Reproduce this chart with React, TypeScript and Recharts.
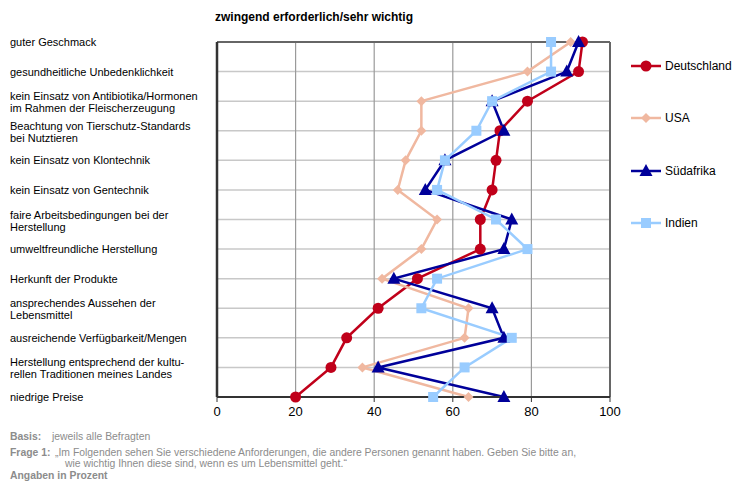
import React from 'react';
import { LineChart, Line, XAxis, YAxis, CartesianGrid, Legend, ReferenceLine } from 'recharts';

const categories = [
  'guter Geschmack',
  'gesundheitliche Unbedenklichkeit',
  'kein Einsatz von Antibiotika/Hormonen\nim Rahmen der Fleischerzeugung',
  'Beachtung von Tierschutz-Standards\nbei Nutztieren',
  'kein Einsatz von Klontechnik',
  'kein Einsatz von Gentechnik',
  'faire Arbeitsbedingungen bei der\nHerstellung',
  'umweltfreundliche Herstellung',
  'Herkunft der Produkte',
  'ansprechendes Aussehen der\nLebensmittel',
  'ausreichende Verfügbarkeit/Mengen',
  'Herstellung entsprechend der kultu-\nrellen Traditionen meines Landes',
  'niedrige Preise',
];
const deutschland = [93, 92, 79, 72, 71, 70, 67, 67, 51, 41, 33, 29, 20];
const usa = [90, 79, 52, 52, 48, 46, 56, 52, 42, 64, 63, 37, 64];
const suedafrika = [92, 89, 70, 73, 58, 53, 75, 73, 45, 70, 73, 41, 73];
const indien = [85, 85, 70, 66, 58, 56, 71, 79, 56, 52, 75, 63, 55];
const xTicks = [0, 20, 40, 60, 80, 100];

const seriesNames = ['Deutschland', 'USA', 'Südafrika', 'Indien'];
const seriesKeys = ['de', 'us', 'za', 'in'];
const seriesColors = ['#C0001A', '#F0B8A0', '#00009A', '#99CCFF'];
const seriesShapes = ['circle', 'diamond', 'triangle', 'square'];

const data = categories.map((name, i) => ({
  name,
  de: deutschland[i],
  us: usa[i],
  za: suedafrika[i],
  in: indien[i],
}));

const FONT = '"Liberation Sans", Arial, sans-serif';

function Marker({ shape, cx, cy, color }: { shape: string; cx: number; cy: number; color: string }) {
  if (shape === 'circle') return <circle cx={cx} cy={cy} r={5.5} fill={color} stroke="none" />;
  if (shape === 'diamond')
    return (
      <polygon
        points={`${cx},${cy - 5} ${cx + 5},${cy} ${cx},${cy + 5} ${cx - 5},${cy}`}
        fill={color}
      />
    );
  if (shape === 'triangle')
    return (
      <polygon
        points={`${cx},${cy - 7} ${cx + 6.5},${cy + 5} ${cx - 6.5},${cy + 5}`}
        fill={color}
      />
    );
  return <rect x={cx - 5} y={cy - 5} width={10} height={10} fill={color} />;
}

const makeDot = (shape: string, color: string) => (props: any) => {
  const { cx, cy, index } = props;
  if (cx == null || cy == null) return <g key={`d-${index}`} />;
  return (
    <g key={`d-${shape}-${index}`}>
      <Marker shape={shape} cx={cx} cy={cy} color={color} />
    </g>
  );
};

const CategoryTick = (props: any) => {
  const { y, payload } = props;
  const lines = String(payload.value).split('\n');
  if (lines.length === 1) {
    return (
      <text x={10} y={y + 4} fontSize={11} fill="#000" fontFamily={FONT} textAnchor="start">
        {lines[0]}
      </text>
    );
  }
  return (
    <text x={10} y={y} fontSize={11} fill="#000" fontFamily={FONT} textAnchor="start">
      <tspan x={10} y={y - 1}>{lines[0]}</tspan>
      <tspan x={10} y={y + 11}>{lines[1]}</tspan>
    </text>
  );
};

const LegendContent = () => (
  <div style={{ position: 'relative', width: 110, height: 190 }}>
    {seriesNames.map((n, i) => (
      <div
        key={n}
        style={{ position: 'absolute', left: 0, top: i * 52.3, height: 16, display: 'flex', alignItems: 'center' }}
      >
        <svg width={32} height={16}>
          <line x1={1} y1={8} x2={31} y2={8} stroke={seriesColors[i]} strokeWidth={2.5} />
          <Marker shape={seriesShapes[i]} cx={16} cy={8} color={seriesColors[i]} />
        </svg>
        <span style={{ fontFamily: FONT, fontSize: 12, color: '#000', marginLeft: 3 }}>{n}</span>
      </div>
    ))}
  </div>
);

const note = { position: 'absolute' as const, fontSize: 10.4, color: '#8c8c8c', fontFamily: FONT, whiteSpace: 'nowrap' as const };

export default function App() {
  return (
    <div style={{ position: 'absolute', left: 0, top: 0, width: 736, height: 481, background: '#fff', fontFamily: FONT }}>
      <div
        style={{
          position: 'absolute',
          left: 215,
          top: 9,
          fontSize: 12,
          fontWeight: 'bold',
          fontFamily: FONT,
          color: '#000',
          lineHeight: '16px',
        }}
      >
        zwingend erforderlich/sehr wichtig
      </div>
      <LineChart
        width={736}
        height={481}
        data={data}
        layout="vertical"
        margin={{ top: 42, right: 126, bottom: 54, left: 0 }}
      >
        <CartesianGrid vertical={false} stroke="#c8c8c8" strokeWidth={1.5} />
        <CartesianGrid horizontal={false} stroke="#9a9a9a" strokeWidth={1.2} />
        <XAxis
          type="number"
          domain={[0, 100]}
          ticks={xTicks}
          height={30}
          axisLine={{ stroke: '#333', strokeWidth: 2 }}
          tickLine={{ stroke: '#333', strokeWidth: 1 }}
          tickSize={5}
          tickMargin={5}
          tick={{ fontSize: 13, fill: '#000', fontFamily: FONT }}
        />
        <YAxis
          type="category"
          dataKey="name"
          scale="point"
          width={217}
          interval={0}
          axisLine={{ stroke: '#333', strokeWidth: 2.5 }}
          tickLine={false}
          tick={<CategoryTick />}
        />
        <ReferenceLine y={categories[0]} stroke="#666" strokeWidth={2} />
        <ReferenceLine x={100} stroke="#666" strokeWidth={2} />
        {seriesKeys.map((k, i) => (
          <Line
            key={k}
            dataKey={k}
            name={seriesNames[i]}
            stroke={seriesColors[i]}
            strokeWidth={2.5}
            dot={makeDot(seriesShapes[i], seriesColors[i])}
            activeDot={false}
            isAnimationActive={false}
          />
        ))}
        <Legend
          layout="horizontal"
          verticalAlign="middle"
          align="center"
          width={110}
          content={<LegendContent />}
          wrapperStyle={{ position: 'absolute', left: 630, top: 58, width: 110, height: 190 }}
        />
      </LineChart>
      <div style={{ ...note, left: 10, top: 431, lineHeight: '12px' }}>
        <b>Basis:</b>
      </div>
      <div style={{ ...note, left: 52, top: 431, lineHeight: '12px' }}>
        jeweils alle Befragten
      </div>
      <div style={{ ...note, left: 10, top: 447, lineHeight: '11px' }}>
        <b>Frage 1:</b>
      </div>
      <div style={{ ...note, left: 55, top: 447, lineHeight: '11px' }}>
        „Im Folgenden sehen Sie verschiedene Anforderungen, die andere Personen genannt haben. Geben Sie bitte an,
        <br />
        <span style={{ marginLeft: 10 }}>wie wichtig Ihnen diese sind, wenn es um Lebensmittel geht.“</span>
      </div>
      <div style={{ ...note, left: 10, top: 470, lineHeight: '12px' }}>
        <b>Angaben in Prozent</b>
      </div>
    </div>
  );
}
